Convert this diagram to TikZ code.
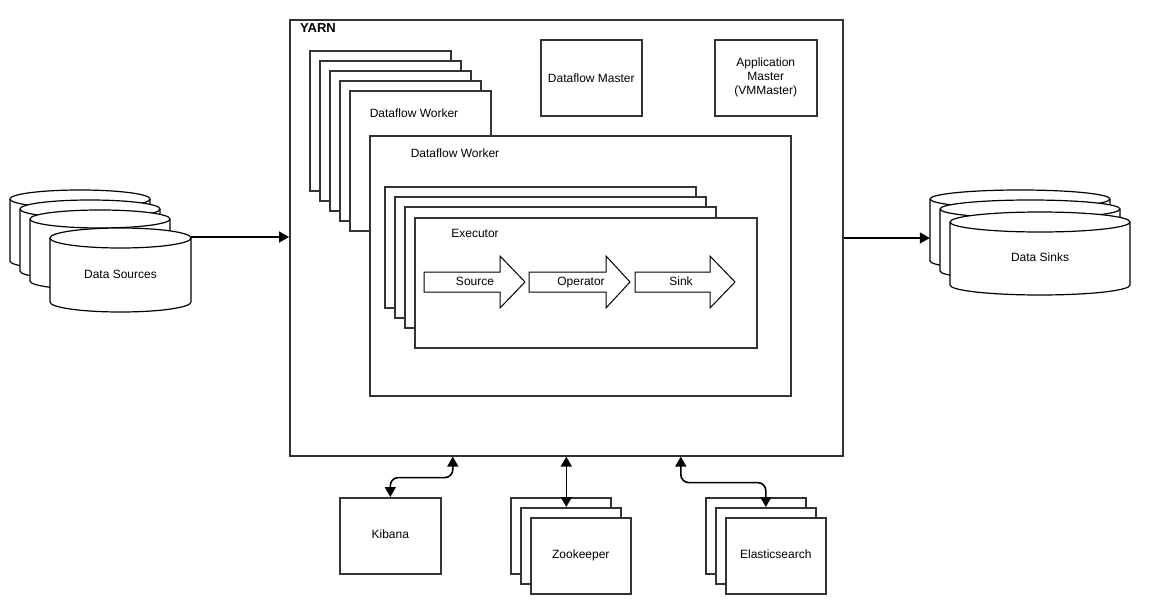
\documentclass[tikz,border=0pt]{standalone}
\usepackage{fontspec}
\setmainfont{Liberation Sans}
\usetikzlibrary{arrows.meta,calc}
\newcommand\mycyl[6]{%
\pgfmathsetmacro\cyCx{#2+#4/2}%
\pgfmathsetmacro\cyXr{#2+#4}%
\pgfmathsetmacro\cyYt{#3+#6}%
\pgfmathsetmacro\cyYm{#3+2*#6}%
\pgfmathsetmacro\cyB{#3+#5}%
\pgfmathsetmacro\cyYb{#3+#5-#6}%
\pgfmathsetmacro\cyKx{0.5523*#4/2}%
\pgfmathsetmacro\cyKy{0.5523*#6}%
\filldraw[cyl] (#2,\cyYt) -- (#2,\cyYb) .. controls +(0,\cyKy) and +(-\cyKx,0) .. (\cyCx,\cyB) .. controls +(\cyKx,0) and +(0,\cyKy) .. (\cyXr,\cyYb) -- (\cyXr,\cyYt) .. controls +(0,-\cyKy) and +(\cyKx,0) .. (\cyCx,#3) .. controls +(-\cyKx,0) and +(0,-\cyKy) .. (#2,\cyYt) -- cycle;
\draw[cyl] (#2,\cyYt) .. controls +(0,\cyKy) and +(-\cyKx,0) .. (\cyCx,\cyYm) .. controls +(\cyKx,0) and +(0,\cyKy) .. (\cyXr,\cyYt);
\node[inner sep=0pt, minimum width=#4pt, minimum height=#5pt] (#1) at (\cyCx, #3+#5/2) {};
}
\begin{document}
\begin{tikzpicture}[x=1pt,y=-1pt,
  every node/.style={font=\fontsize{12}{14}\selectfont, align=center},
  box/.style={draw=black!80, line width=1.6pt, fill=white, inner sep=0pt, anchor=north west},
  cyl/.style={draw=black, line width=1.2pt, fill=white},
  blk/.style={draw=black, line width=1pt, fill=white},
  conn/.style={line width=1.6pt, -{Triangle[length=10pt,width=11pt]}},
  conn2/.style={line width=1.6pt, {Triangle[length=10pt,width=11pt]}-{Triangle[length=10pt,width=11pt]}},
  lbl/.style={inner sep=0pt},
  albl/.style={inner sep=0pt, text height=8.6pt, text depth=2.5pt}]
\useasboundingbox (0,0) rectangle (1150,612);
% YARN
\node[box, minimum width=553pt, minimum height=436pt] (yarn) at (289,19) {};
\node[lbl, anchor=west, font=\fontsize{13}{15}\selectfont\bfseries] (yarnT) at (300,28) {YARN};
% Dataflow worker stack
\node[box, minimum width=141pt, minimum height=140pt] (dw1) at (309,50) {};
\node[box, minimum width=141pt, minimum height=140pt] (dw2) at (319,60) {};
\node[box, minimum width=141pt, minimum height=140pt] (dw3) at (329,70) {};
\node[box, minimum width=141pt, minimum height=140pt] (dw4) at (339,80) {};
\node[box, minimum width=141pt, minimum height=140pt] (dw5) at (349,90) {};
\node[albl] (dw5T) at (414,114) {Dataflow Worker};
% Big Dataflow worker
\node[box, minimum width=421pt, minimum height=260pt] (dwb) at (369,135) {};
\node[albl] (dwbT) at (455,154) {Dataflow Worker};
% Executor stack
\node[box, minimum width=311pt, minimum height=121pt] (ex1) at (384,186) {};
\node[box, minimum width=311pt, minimum height=121pt] (ex2) at (394,196) {};
\node[box, minimum width=311pt, minimum height=121pt] (ex3) at (404,206) {};
\node[box, minimum width=342pt, minimum height=130pt] (ex4) at (414,217) {};
\node[albl] (ex4T) at (475,234) {Executor};
% Block arrows
\filldraw[blk] (424,272) -- (500,272) -- (500,256) -- (525,282) -- (500,308) -- (500,292) -- (424,292) -- cycle;
\node[albl] (srcT) at (475,282) {Source};
\filldraw[blk] (529,272) -- (606,272) -- (606,256) -- (630,282) -- (606,308) -- (606,292) -- (529,292) -- cycle;
\node[albl] (opT) at (581,282) {Operator};
\filldraw[blk] (635,272) -- (710,272) -- (710,256) -- (735,282) -- (710,308) -- (710,292) -- (635,292) -- cycle;
\node[albl] (sinkT) at (681,282) {Sink};
% Masters
\node[box, minimum width=101pt, minimum height=76pt] (dm) at (540,39) {};
\node[lbl] (dmT) at (dm.center) {Dataflow Master};
\node[box, minimum width=102pt, minimum height=76pt] (am) at (714,39) {};
\node[lbl] (amT) at (am.center) {Application\\Master\\(VMMaster)};
% Data sources
\mycyl{ds1}{10}{190}{140}{80}{9}
\mycyl{ds2}{20}{200}{140}{80}{9}
\mycyl{ds3}{30}{210}{140}{80}{9}
\mycyl{dsrc}{50}{228}{141}{84}{10}
\node[albl] (dsrcT) at ([yshift=-5pt]dsrc.center) {Data Sources};
% Data sinks
\mycyl{dsinkA}{930}{190}{180}{80}{9}
\mycyl{dsinkB}{940}{200}{180}{80}{9}
\mycyl{dsink}{950}{212}{180}{83}{10}
\node[albl] (dsinkT) at ([yshift=-4.5pt]dsink.center) {Data Sinks};
% Bottom services
\node[box, minimum width=101pt, minimum height=76pt] (kib) at (339,497) {};
\node[albl] (kibT) at (kib.center) {Kibana};
\node[box, minimum width=100pt, minimum height=76pt] (zooA) at (510,497) {};
\node[box, minimum width=100pt, minimum height=76pt] (zooB) at (520,507) {};
\node[box, minimum width=100pt, minimum height=76pt] (zoo) at (530,517) {};
\node[albl] (zooT) at (zoo.center) {Zookeeper};
\node[box, minimum width=100pt, minimum height=76pt] (esA) at (705,497) {};
\node[box, minimum width=100pt, minimum height=76pt] (esB) at (715,507) {};
\node[box, minimum width=100pt, minimum height=76pt] (es) at (725,517) {};
\node[albl] (esT) at (es.center) {Elasticsearch};
% Connectors
\draw[conn] ([yshift=33pt]dsrc.east) -- ([yshift=33pt]dsrc.east -| yarn.west);
\draw[conn] ([yshift=-8pt]dsinkA.west -| yarn.east) -- ([yshift=-8pt]dsinkA.west);
\draw[conn2, rounded corners=8pt] ([xshift=-113.5pt]yarn.south) -- ++(0,21) -| (kib.north);
\draw[conn2] (yarn.south) -- (yarn.south |- zooB.north);
\draw[conn2, rounded corners=8pt] ([xshift=114.5pt]yarn.south) -- ++(0,26) -| (esB.north);
\end{tikzpicture}
\end{document}
